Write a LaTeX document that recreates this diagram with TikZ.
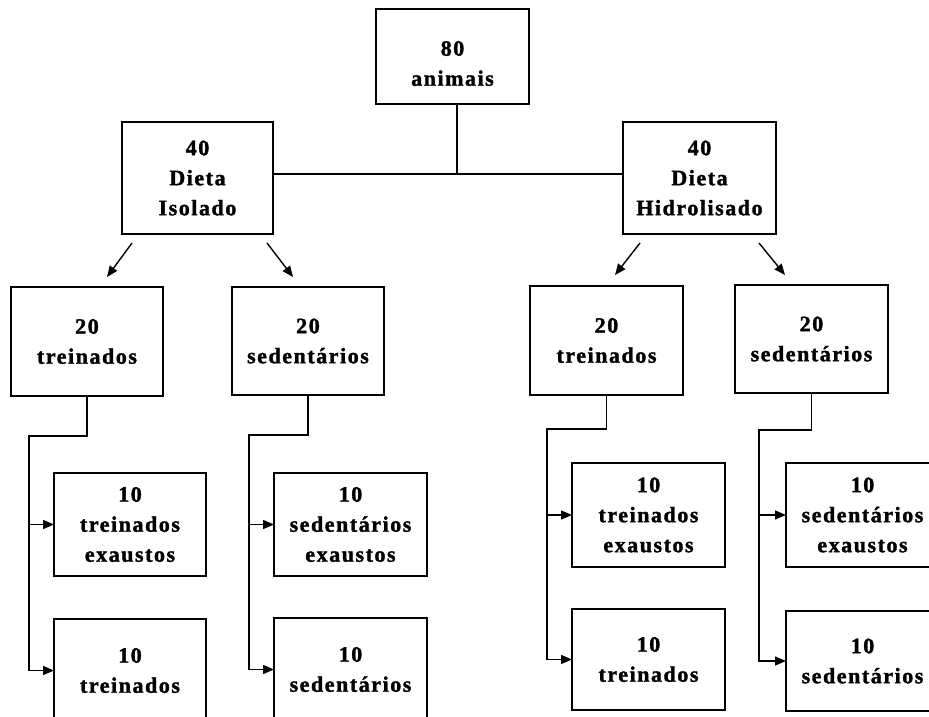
\documentclass[tikz,border=0pt]{standalone}
\usepackage{fontspec}
\setmainfont{Liberation Serif}[LetterSpace=7,BoldFeatures={FakeBold=1.5}]
\usetikzlibrary{arrows.meta}
\begin{document}
\begin{tikzpicture}[x=1pt,y=-1pt,
  box/.style={draw,line width=1.6pt,inner sep=0pt,outer sep=0pt,align=center,
    font=\fontsize{22}{30}\selectfont\bfseries},
  txt/.style={inner sep=0pt,align=center,font=\fontsize{22}{30}\selectfont\bfseries},
  conn/.style={line width=1.6pt},
  arr/.style={line width=1.4pt,-{Triangle[length=11pt,width=9pt]}}]
\useasboundingbox (0,0) rectangle (929,717);
\clip (0,0) rectangle (929,717);
% level 0/1
\node[box,minimum width=153pt,minimum height=95pt] (top) at (452.5,56.5) {};
\node[txt] (toptext) at ([yshift=-7pt]top.center) {80\\animais};
\node[box,minimum width=151pt,minimum height=112pt] (L) at (197.5,178) {40\\Dieta\\Isolado};
\node[box,minimum width=153pt,minimum height=112pt] (R) at (699.5,178) {40\\Dieta\\Hidrolisado};
% level 2
\node[box,minimum width=152pt,minimum height=109pt] (LT) at (87,341.5) {20\\treinados};
\node[box,minimum width=152pt,minimum height=108pt] (LS) at (308,341) {20\\sedentários};
\node[box,minimum width=153pt,minimum height=109pt] (RT) at (606.5,340.5) {20\\treinados};
\node[box,minimum width=153pt,minimum height=108pt] (RS) at (811.5,339) {20\\sedentários};
% level 3
\node[box,minimum width=152pt,minimum height=103pt] (LT1) at (130,524.5) {10\\treinados\\exaustos};
\node[box,minimum width=152pt,minimum height=103pt] (LT2) at (130,670.5) {10\\treinados};
\node[box,minimum width=153pt,minimum height=103pt] (LS1) at (350.5,524.5) {10\\sedentários\\exaustos};
\node[box,minimum width=153pt,minimum height=103pt] (LS2) at (350.5,669.5) {10\\sedentários};
\node[box,minimum width=153pt,minimum height=104pt] (RT1) at (648.5,515) {10\\treinados\\exaustos};
\node[box,minimum width=153pt,minimum height=101pt] (RT2) at (648.5,659.5) {10\\treinados};
\node[box,minimum width=153pt,minimum height=104pt] (RS1) at (862.5,515) {10\\sedentários\\exaustos};
\node[box,minimum width=153pt,minimum height=100pt] (RS2) at (862.5,661) {10\\sedentários};
% top connectors
\coordinate (j) at (457,174);
\draw[conn] (top.south -| j) -- (j);
\draw[conn] (L.east |- j) -- (R.west |- j);
% short arrows
\coordinate (a1s) at (132,243); \coordinate (a1e) at (107,277);
\coordinate (a2s) at (267,243); \coordinate (a2e) at (293,277);
\coordinate (a3s) at (640,243); \coordinate (a3e) at (615,275);
\coordinate (a4s) at (759,243); \coordinate (a4e) at (785,275);
\draw[arr] (a1s) -- (a1e);
\draw[arr] (a2s) -- (a2e);
\draw[arr] (a3s) -- (a3e);
\draw[arr] (a4s) -- (a4e);
% buses
\coordinate (ltb) at (29,436);
\coordinate (lsb) at (249,435);
\coordinate (rtb) at (547,429);
\coordinate (rsb) at (759,430);
\draw[arr] (LT.south) |- (ltb) |- (LT2.west);
\draw[arr] (ltb |- LT1.west) -- (LT1.west);
\draw[arr] (LS.south) |- (lsb) |- (LS2.west);
\draw[arr] (lsb |- LS1.west) -- (LS1.west);
\draw[arr] (RT.south) |- (rtb) |- (RT2.west);
\draw[arr] (rtb |- RT1.west) -- (RT1.west);
\draw[arr] (RS.south) |- (rsb) |- (RS2.west);
\draw[arr] (rsb |- RS1.west) -- (RS1.west);
\end{tikzpicture}
\end{document}
